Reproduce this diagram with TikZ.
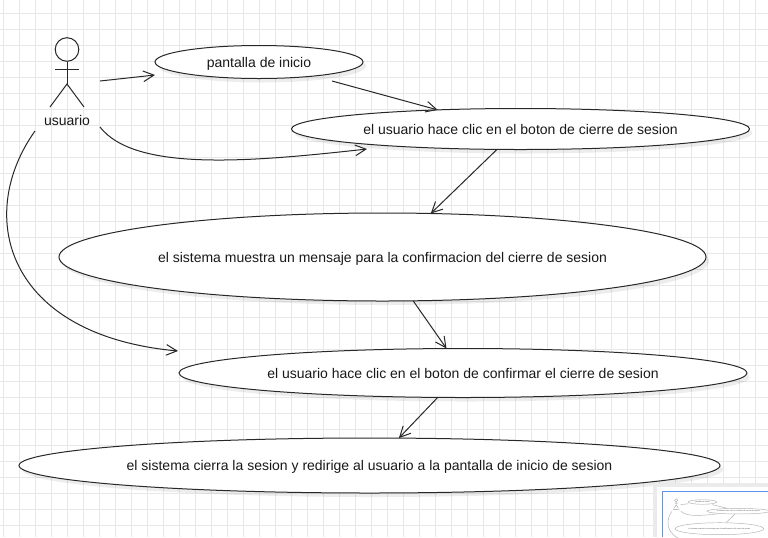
\documentclass[tikz,border=0pt]{standalone}
\usepackage{fontspec}
\setmainfont{Liberation Sans}
\usetikzlibrary{arrows.meta,shapes.geometric}
\definecolor{gridgray}{RGB}{232,232,232}
\definecolor{strokegray}{RGB}{40,40,40}
\definecolor{miniblue}{RGB}{90,150,235}
\tikzset{every picture/.style={line width=0.75pt}}
\tikzset{
  usecase/.style={draw=strokegray,fill=white,ellipse,inner sep=0pt,outer sep=0pt},
  assoc/.style={draw=strokegray,line width=0.75pt,-{Straight Barb[length=8pt,width=8pt,line width=0.75pt]}},
  caption/.style={font=\fontsize{10.5pt}{12pt}\selectfont,text=black!90,inner sep=0pt,anchor=base},
  miniline/.style={draw=black!30,line width=0.35pt},
  minicase/.style={miniline,fill=white,ellipse,inner sep=0pt,outer sep=0pt},
  minicaption/.style={font=\fontsize{1.44pt}{2pt}\selectfont,text=black!70,inner sep=0pt}
}
% name, x, y, width, height, text
\newcommand{\usecasenode}[6]{%
  \fill[black,fill opacity=0.07] (#2+3,#3+4) ellipse ({#4*0.375pt} and {#5*0.375pt});
  \node[usecase,minimum width=#4*0.75pt,minimum height=#5*0.75pt] (#1) at (#2,#3) {};
  \node[caption] (#1text) at (#2,#3+5) {#6};
}
\begin{document}
\begin{tikzpicture}[x=0.75pt,y=0.75pt,yscale=-1,xscale=1]
\useasboundingbox (0,0) rectangle (768,537);
\fill[white] (0,0) rectangle (768,537);

%Grid
\foreach \gx in {3,19,...,768} {\draw[gridgray] (\gx,0) -- (\gx,537);}
\foreach \gy in {13,29,...,537} {\draw[gridgray] (0,\gy) -- (768,\gy);}

%Use cases
\usecasenode{inicio}{259}{62}{208}{33}{pantalla de inicio}
\usecasenode{clic}{520.5}{129}{458}{41}{el usuario hace clic en el boton de cierre de sesion}
\usecasenode{mensaje}{382.5}{257}{647}{88}{el sistema muestra un mensaje para la confirmacion del cierre de sesion}
\usecasenode{confirmar}{463}{373}{568}{49}{el usuario hace clic en el boton de confirmar el cierre de sesion}
\usecasenode{cierra}{369.5}{465.5}{701}{55}{el sistema cierra la sesion y redirige al usuario a la pantalla de inicio de sesion}

%Actor
\coordinate (neck) at (67,61.5);
\coordinate (hip) at (67,84);
\draw[strokegray] (67,49.5) circle (11.8);
\draw[strokegray] (neck) -- (hip);
\draw[strokegray] (55,69.5) -- (79,69.5);
\draw[strokegray] (50,107) -- (hip) -- (84,107);
\node[caption] (usuario) at (67,125.5) {usuario};

%Connector free ends
\coordinate (usuarioA) at (100,81);
\coordinate (usuarioB) at (100,127);
\coordinate (usuarioC) at (35,131);
\coordinate (inicioEnd) at (155,75);
\coordinate (inicioOut) at (332,81);
\coordinate (clicEnd) at (367,149);
\coordinate (confirmarEnd) at (178,351);

\draw[assoc] (usuarioA) -- (inicioEnd);
\draw[assoc] (inicioOut) -- (clic.167);
\draw[assoc] (usuarioB) .. controls (135,172) and (250,162) .. (clicEnd);
\draw[assoc] (clic.221) -- (mensaje.42.5);
\draw[assoc] (usuarioC) .. controls (-25,215) and (5,335) .. (confirmarEnd);
\draw[assoc] (mensaje.-55.1) -- (confirmar.124.8);
\draw[assoc] (confirmar.224.3) -- (cierra.43.9);

%Minimap
\fill[black!8] (653,483) rectangle (768,537);
\fill[white] (657,487) rectangle (768,537);
\begin{scope}
\clip (662,491) rectangle (768,537);
\begin{scope}[shift={(667,493.5)},scale=0.137]
\node[minicase,minimum width=21.4pt,minimum height=3.4pt] (miniinicio) at (259,62) {};
\node[minicaption] (miniiniciotext) at (259,62) {pantalla de inicio};
\node[minicase,minimum width=47pt,minimum height=4.2pt] (miniclic) at (520.5,129) {};
\node[minicaption] (miniclictext) at (520.5,129) {el usuario hace clic en el boton de cierre de sesion};
\node[minicase,minimum width=66.5pt,minimum height=9pt] (minimensaje) at (382.5,257) {};
\node[minicaption] (minimensajetext) at (382.5,257) {el sistema muestra un mensaje para la confirmacion del cierre de sesion};
\draw[miniline] (67,49.5) circle (11.8);
\draw[miniline] (67,61.5) -- (67,84) (55,69.5) -- (79,69.5) (50,107) -- (67,84) -- (84,107);
\node[minicaption] (miniusuario) at (67,121) {usuario};
\draw[miniline] (100,81) -- (155,75);
\draw[miniline] (332,81) -- (438,108);
\draw[miniline] (100,127) .. controls (135,172) and (250,162) .. (367,149);
\draw[miniline] (497,150) -- (431,212);
\draw[miniline] (35,131) .. controls (-25,215) and (5,335) .. (178,351);
\end{scope}
\end{scope}
\draw[miniblue,line width=1pt] (662.5,537) -- (662.5,491.5) -- (768,491.5);
\end{tikzpicture}
\end{document}
